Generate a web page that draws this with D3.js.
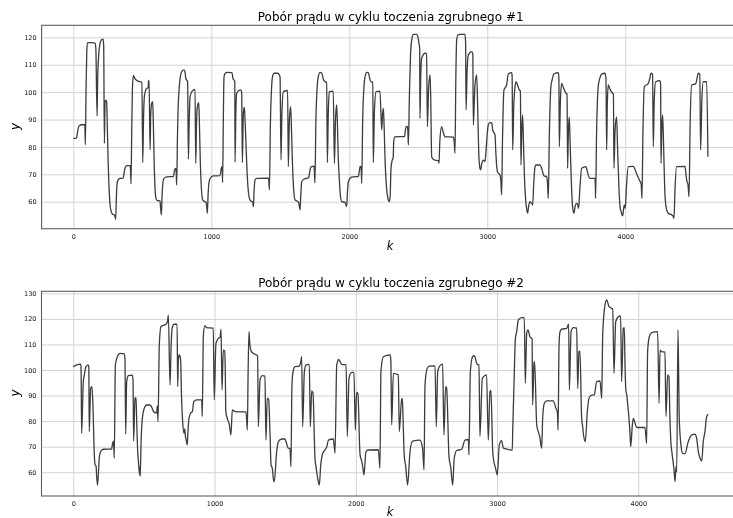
<!DOCTYPE html>
<html>
<head>
<meta charset="utf-8">
<script src="https://cdn.jsdelivr.net/npm/d3@7"></script>
<style>
  html, body { margin: 0; padding: 0; background: #fff; }
  svg { display: block; font-family: "DejaVu Sans", sans-serif; filter: grayscale(100%); }
</style>
</head>
<body>
<svg id="chart" width="733" height="518"></svg>
<script>
// Current draw over a roughing cycle: [sample k, current y]
const cycle1 = [
  [0,83.1],[22,83.2],[28,84.5],[35,86.8],[45,87.8],[60,88.1],[83,88.1],[87,80.8],[92,100],[97,114],[102,118.0],
  [130,118.1],[158,117.9],[163,116],[172,91.3],[176,104],[183,113],[193,117.6],[205,119.2],[216,119.3],[220,117],
  [225,81.3],[230,96.5],[236,97.1],[241,96.5],[246,88],[252,75],[258,66],[266,59],[275,56.3],[285,55.4],[298,55.1],
  [302,54.5],[307,53.6],[311,60],[316,66.2],[324,67.9],[338,68.5],[362,68.6],[368,70.5],[376,72.6],[388,73.2],
  [411,73.2],[414,72],[418,66.5],[423,85],[428,101],[435,106.1],[445,105],[465,104.1],[480,103.8],[497,103.6],
  [503,74.3],[509,91],[515,98.5],[522,100.3],[532,101.4],[542,101.6],[545,104],[549,104.4],[556,78.9],[561,92],
  [568,95.9],[575,96.5],[580,88],[586,74],[592,65],[598,61.5],[606,60.5],[628,60.3],[632,58],[638,55.2],[643,62],
  [650,67.3],[660,68.7],[677,69.1],[725,69.2],[733,71.5],[742,72.2],[745,71],[749,66.1],[755,85],[760,95],
  [766,100.8],[775,105.5],[785,107.5],[802,108.1],[810,107.2],[815,105],[822,104.4],[828,104],[834,75.5],[840,90],
  [846,98.3],[860,100.3],[882,101],[887,74.0],[893,89],[899,94.7],[909,96.2],[913,90],[920,75],[928,65],[938,60.6],
  [962,59.7],[967,58],[971,55.8],[977,63],[986,67.9],[1000,69],[1015,69.4],[1063,69.5],[1070,71.5],[1075,72.8],
  [1079,72],[1082,67.0],[1087,90],[1092,105.6],[1100,106.8],[1116,107.2],[1150,107.1],[1157,105],[1165,104.4],
  [1170,104],[1172,74.4],[1178,93],[1184,99.6],[1200,100.6],[1213,100.8],[1220,100],[1225,74.3],[1232,92],
  [1239,94.5],[1244,90.4],[1252,80],[1260,70],[1270,63],[1282,60.5],[1300,59.8],[1305,58.2],[1310,64],[1317,68.0],
  [1330,68.5],[1415,68.6],[1421,64.3],[1428,88],[1436,101],[1445,106],[1455,106.9],[1480,106.9],[1490,106.5],
  [1498,105.6],[1505,75.3],[1512,93],[1522,100.2],[1553,100.6],[1558,72.8],[1566,90],[1575,94.7],[1580,88],
  [1588,74],[1596,65],[1607,60.6],[1630,60.0],[1636,59],[1643,57.0],[1648,62],[1655,67.3],[1670,68.2],[1691,68.5],
  [1706,68.8],[1712,70.5],[1720,72.5],[1727,72.8],[1744,73],[1747,71],[1751,66.9],[1758,90],[1766,101],[1775,105.6],
  [1788,107.2],[1800,107],[1812,104.6],[1824,103.8],[1836,103.6],[1841,74.3],[1848,93],[1855,100.2],[1884,100.4],
  [1892,74.0],[1900,90],[1908,95.3],[1913,90],[1920,76],[1928,67.9],[1936,62],[1945,60.0],[1969,59.8],[1975,59],
  [1981,58.2],[1986,63],[1993,67.3],[2010,68.8],[2029,69.1],[2066,69.2],[2072,71],[2078,72.8],[2085,72.9],
  [2087,71],[2090,66.7],[2097,90],[2105,101],[2114,105.6],[2126,107.2],[2138,107.1],[2148,105],[2157,103.8],
  [2170,103.6],[2174,74.3],[2182,93],[2194,100.2],[2222,100.4],[2235,86.2],[2241,92],[2247,94.1],[2252,88],
  [2260,74],[2270,65],[2283,60.6],[2290,60.0],[2296,62],[2302,72],[2310,75.0],[2318,76],[2322,82],[2330,83.7],
  [2400,83.8],[2406,86],[2412,87.4],[2422,87.5],[2425,85],[2428,80.7],[2436,100],[2444,114],[2452,119],
  [2464,121.1],[2488,121.1],[2498,120],[2505,117.8],[2510,116],[2512,90.4],[2518,106],[2524,112.3],[2549,114.2],
  [2560,114],[2566,87.4],[2575,102],[2585,106.3],[2590,98],[2597,76.4],[2610,75.4],[2621,75.2],[2645,75.0],
  [2650,74],[2656,82],[2669,87.4],[2680,85.5],[2694,83.7],[2754,83.6],[2760,82],[2766,77.7],[2772,105],[2778,119],
  [2790,121],[2802,121.1],[2838,121.1],[2843,118],[2846,93.5],[2854,108],[2863,113.6],[2887,114.8],[2895,114],
  [2899,88],[2910,102],[2923,106.3],[2930,95],[2938,78],[2945,72.8],[2952,71.6],[2960,74],[2971,75.2],[2983,74.6],
  [2990,78],[3000,85],[3007,88],[3019,88.9],[3032,88.8],[3040,86],[3051,85],[3056,84.4],[3062,78],[3068,73],
  [3075,70.8],[3092,69.8],[3098,68],[3104,62.5],[3110,82],[3116,96],[3121,100.8],[3140,102.6],[3152,106.6],
  [3176,107.1],[3180,106],[3184,78.9],[3192,95],[3200,101.5],[3208,103.8],[3220,102.5],[3232,100.8],[3240,100.5],
  [3244,73.4],[3250,86],[3256,91.7],[3262,82],[3270,68],[3278,60.6],[3285,57.5],[3292,55.8],[3300,58.5],[3309,60],
  [3321,59.4],[3325,59.2],[3329,58.8],[3336,66],[3346,72.8],[3353,73.4],[3382,73.4],[3395,72],[3410,69.5],
  [3430,69.1],[3436,67],[3442,61.2],[3450,85],[3461,102],[3470,104.5],[3483,106.6],[3515,107.1],[3519,105],
  [3522,80.1],[3530,97],[3539,103.2],[3555,101.2],[3570,99.6],[3578,99.3],[3582,72.2],[3588,86],[3594,91],
  [3600,82],[3610,66],[3618,58.2],[3628,55.8],[3637,58.5],[3647,59.4],[3655,59],[3662,57.6],[3670,64],[3684,72.2],
  [3715,72.8],[3725,71],[3744,68.5],[3780,68.5],[3783,66],[3785,61.2],[3792,85],[3804,102],[3815,105],[3829,106.6],
  [3853,106.9],[3860,105],[3865,78.9],[3870,96],[3877,102.6],[3890,101],[3908,99.6],[3914,99.3],[3918,72.2],
  [3926,86],[3937,91],[3945,78],[3955,64],[3962,58.2],[3972,56],[3981,54.8],[3988,57.5],[3993,58.8],[3997,58.3],
  [4000,57.6],[4008,65],[4022,72.8],[4058,72.9],[4080,70.5],[4102,67.9],[4115,66.5],[4121,61.2],[4128,85],
  [4138,102],[4167,103.2],[4178,105],[4186,106.9],[4198,106.5],[4203,80.1],[4210,97],[4220,103.8],[4251,104.2],
  [4256,103],[4259,74],[4265,87],[4271,91.7],[4278,80],[4285,66],[4290,60.6],[4300,57],[4312,55.8],[4336,55.2],
  [4345,54.8],[4353,53.9],[4360,64],[4372,72.8],[4433,72.9],[4440,70],[4445,67.9],[4455,66],[4462,61.8],[4470,88],
  [4481,102.6],[4510,103],[4520,105],[4529,106.9],[4540,106.5],[4546,78.9],[4555,97],[4565,103.8],[4590,103.8],
  [4599,76.4]
];

const cycle2 = [
  [0,101.3],[24,102.0],[52,102.3],[55,101],[59,75.2],[71,95.5],[78,98],[90,101.3],[106,102.0],[110,101],[113,75.9],
  [123,92.8],[132,93.5],[138,88],[149,66.8],[154,62.9],[161,62.5],[166,58],[172,55],[184,65.5],[194,68.1],[213,69],
  [272,69.1],[277,71],[283,72.2],[286,71],[290,65.5],[298,102],[312,105.2],[331,106.5],[361,106.3],[366,104],
  [371,74.9],[378,95.5],[390,97.8],[418,98.0],[423,96],[427,72.2],[437,88.9],[444,89.2],[448,82],[456,68.1],
  [463,63],[470,59],[472,62],[474,58.5],[480,72],[489,81.1],[501,84.8],[520,86.3],[543,86.3],[555,85.5],[571,83.5],
  [590,83.2],[595,86],[600,79.8],[609,109.8],[621,117],[656,117.9],[667,119],[673,121.5],[685,94.1],[693,110],
  [700,116.5],[713,117.9],[735,117.9],[739,93.5],[744,104],[749,105.9],[755,105.5],[760,104],[766,90],[774,80],
  [784,75.2],[789,77],[793,74.5],[800,72.5],[807,70.7],[812,76],[819,81.1],[831,83.1],[843,83.7],[853,87.6],
  [873,88.3],[909,88.3],[913,81.8],[921,113.7],[932,117.4],[944,116.6],[991,116.4],[998,88.3],[1010,110.4],
  [1027,112.4],[1039,112.8],[1046,116],[1053,92.2],[1062,107.8],[1072,107.5],[1076,100],[1080,83.7],[1090,81.1],
  [1105,78.5],[1110,76.5],[1116,74.6],[1126,84.4],[1145,83.7],[1223,83.6],[1232,76.5],[1238,100],[1244,115],
  [1250,110],[1260,107.3],[1275,106.5],[1305,105.6],[1310,77.8],[1322,96.1],[1338,97.8],[1357,97.6],[1364,72.6],
  [1373,88.9],[1383,88.5],[1393,74.6],[1400,62.9],[1409,61.5],[1416,57.6],[1423,56.3],[1440,68.1],[1452,72],
  [1475,73],[1499,73],[1506,72],[1522,69.4],[1534,69.3],[1541,62.2],[1548,94.1],[1558,100],[1570,101.3],
  [1600,101.5],[1610,103],[1617,105.2],[1624,77.8],[1636,99.4],[1648,102],[1671,102.2],[1678,77.8],[1688,91.8],
  [1697,91],[1711,65.5],[1718,62.3],[1728,58.5],[1742,55],[1751,62.2],[1766,67.4],[1782,68.7],[1795,70],
  [1806,72.6],[1841,73],[1845,71.5],[1853,67.4],[1865,102],[1876,103.9],[1879,104.2],[1900,102.2],[1931,102],
  [1940,74],[1952,96.8],[1971,99.1],[1987,99.1],[1997,76.5],[2006,91.2],[2015,90.8],[2030,67],[2041,64.5],
  [2049,62.2],[2058,59],[2072,68.1],[2089,68.7],[2160,68.8],[2171,61.6],[2178,99.4],[2195,105.2],[2242,105.9],
  [2248,104],[2254,78.5],[2266,98.7],[2301,98.1],[2308,75.9],[2325,88.9],[2329,88.5],[2343,66.5],[2353,62.5],
  [2367,55],[2384,68.1],[2402,72.2],[2454,72.6],[2473,69.4],[2483,60.9],[2490,94.1],[2506,100.7],[2520,101.5],
  [2561,101.6],[2570,77.8],[2580,99.4],[2596,101.7],[2615,102.3],[2624,74.6],[2636,93.5],[2643,93],[2660,66],
  [2672,62],[2686,55],[2697,65.5],[2714,68.5],[2749,68.9],[2773,72.6],[2797,72.8],[2801,66.8],[2811,99.4],
  [2827,105.2],[2839,105.6],[2860,102.2],[2872,102],[2879,74],[2896,96.8],[2926,98.1],[2938,72.6],[2950,91.5],
  [2957,92],[2969,68.7],[2978,64],[2988,62],[3002,59],[3016,70.7],[3032,72.4],[3045,69.4],[3108,68.7],[3111,76.5],
  [3120,94.1],[3130,112.4],[3139,115],[3151,119.6],[3174,120.5],[3193,120.5],[3200,94.8],[3210,114.4],
  [3219,115.7],[3233,113],[3248,112.1],[3252,86.3],[3262,102.6],[3266,103.3],[3281,78.5],[3292,75.9],[3302,74],
  [3316,69.4],[3323,81.1],[3335,87],[3351,87.9],[3398,87.9],[3417,85],[3427,83.7],[3432,76.5],[3439,109.8],
  [3446,115],[3458,116],[3493,116.3],[3507,117.9],[3512,92.2],[3524,115],[3540,116.6],[3564,116.4],[3571,92.8],
  [3580,107.2],[3587,107.4],[3599,81.1],[3606,78],[3611,75.2],[3625,72],[3639,83.7],[3651,88.9],[3670,90.2],
  [3689,90.3],[3705,95.5],[3729,95.7],[3741,88.9],[3748,113.7],[3764,125.4],[3776,127.4],[3793,124.8],[3812,124.1],
  [3819,124],[3828,98.7],[3840,118.9],[3859,120.9],[3875,121.2],[3882,95.5],[3894,116.3],[3901,116.6],[3906,102],
  [3913,91.5],[3918,90.5],[3922,88.3],[3934,81.1],[3941,75.5],[3946,70],[3958,78.5],[3965,81.1],[3977,79.2],
  [3988,77.5],[4047,77.5],[4059,71.3],[4066,107.2],[4078,113],[4095,114.6],[4137,115],[4147,87],[4154,107.8],
  [4166,107.2],[4189,107],[4196,81.8],[4208,98.1],[4217,97.4],[4224,81.1],[4232,70.7],[4236,68.7],[4243,65.5],
  [4253,60.9],[4260,56.3],[4267,62.2],[4272,60.2],[4281,115.7],[4290,81.1],[4302,70.7],[4314,67.4],[4330,67.3],
  [4354,72],[4378,74.6],[4401,74.9],[4413,73.3],[4425,68.1],[4437,65.5],[4449,64.4],[4460,72],[4472,75.9],
  [4484,81.8],[4496,82.7]
];

const titles = [
  "Pobór prądu w cyklu toczenia zgrubnego #1",
  "Pobór prądu w cyklu toczenia zgrubnego #2"
];
const kTicks = [0, 1000, 2000, 3000, 4000];
const yTicks1 = [60, 70, 80, 90, 100, 110, 120];
const yTicks2 = [60, 70, 80, 90, 100, 110, 120, 130];

const svg = d3.select("#chart");

function panel(cfg) {
  const { data, title, yTicks, xDomain, yDomain, left, right, top, bottom, titleY, xLabelY, yLabelY, xTickPad } = cfg;
  const x = d3.scaleLinear().domain(xDomain).range([left, right]);
  const y = d3.scaleLinear().domain(yDomain).range([bottom, top]);
  const g = svg.append("g");

  // grid
  g.append("g")
    .attr("transform", `translate(0,${bottom})`)
    .call(d3.axisBottom(x).tickValues(kTicks).tickSize(-(bottom - top)).tickFormat(""))
    .call(s => s.select(".domain").remove())
    .call(s => s.selectAll("line").attr("stroke", "#d2d2d2").attr("stroke-width", 1));
  g.append("g")
    .attr("transform", `translate(${left},0)`)
    .call(d3.axisLeft(y).tickValues(yTicks).tickSize(-(right - left)).tickFormat(""))
    .call(s => s.select(".domain").remove())
    .call(s => s.selectAll("line").attr("stroke", "#d2d2d2").attr("stroke-width", 1));

  // series
  const line = d3.line()
    .x(d => x(d[0]))
    .y(d => y(d[1]))
    .curve(d3.curveMonotoneX);
  g.append("path")
    .datum(data)
    .attr("fill", "none")
    .attr("stroke", "#3c3c3c")
    .attr("stroke-width", 1.3)
    .attr("stroke-linejoin", "round")
    .attr("d", line);

  // frame
  g.append("rect")
    .attr("x", left).attr("y", top)
    .attr("width", right - left).attr("height", bottom - top)
    .attr("fill", "none").attr("stroke", "#5e5e5e").attr("stroke-width", 1.1);

  // tick labels
  g.append("g")
    .attr("transform", `translate(0,${bottom})`)
    .call(d3.axisBottom(x).tickValues(kTicks).tickSize(0).tickPadding(xTickPad).tickFormat(d3.format("d")))
    .call(s => s.select(".domain").remove())
    .call(s => s.selectAll("text").attr("font-size", 6.5).attr("fill", "#111").attr("font-family", "DejaVu Sans"));
  g.append("g")
    .attr("transform", `translate(${left},0)`)
    .call(d3.axisLeft(y).tickValues(yTicks).tickSize(0).tickPadding(5).tickFormat(d3.format("d")))
    .call(s => s.select(".domain").remove())
    .call(s => s.selectAll("text").attr("font-size", 6.5).attr("fill", "#111").attr("font-family", "DejaVu Sans"));

  // title and axis labels
  g.append("text")
    .attr("x", (left + right) / 2).attr("y", titleY)
    .attr("text-anchor", "middle")
    .attr("font-size", 12).attr("fill", "#000")
    .text(title);
  g.append("text")
    .attr("x", 390).attr("y", xLabelY)
    .attr("text-anchor", "middle")
    .attr("font-size", 11.5).attr("font-style", "italic").attr("fill", "#000")
    .text("k");
  g.append("text")
    .attr("transform", `translate(18.5,${yLabelY}) rotate(-90)`)
    .attr("text-anchor", "middle")
    .attr("font-size", 12).attr("font-style", "italic").attr("fill", "#000")
    .text("y");
}

panel({
  data: cycle1, title: titles[0], yTicks: yTicks1,
  xDomain: [-230, 4830], yDomain: [50.15, 124.4],
  left: 41.6, right: 739.8, top: 25.3, bottom: 228.7,
  titleY: 20.5, xLabelY: 250, yLabelY: 126.5, xTickPad: 5.7
});
panel({
  data: cycle2, title: titles[1], yTicks: yTicks2,
  xDomain: [-225, 4725], yDomain: [50.7, 130.8],
  left: 41.5, right: 740.7, top: 291.3, bottom: 496,
  titleY: 287, xLabelY: 515.5, yLabelY: 393, xTickPad: 5.0
});
</script>
</body>
</html>
